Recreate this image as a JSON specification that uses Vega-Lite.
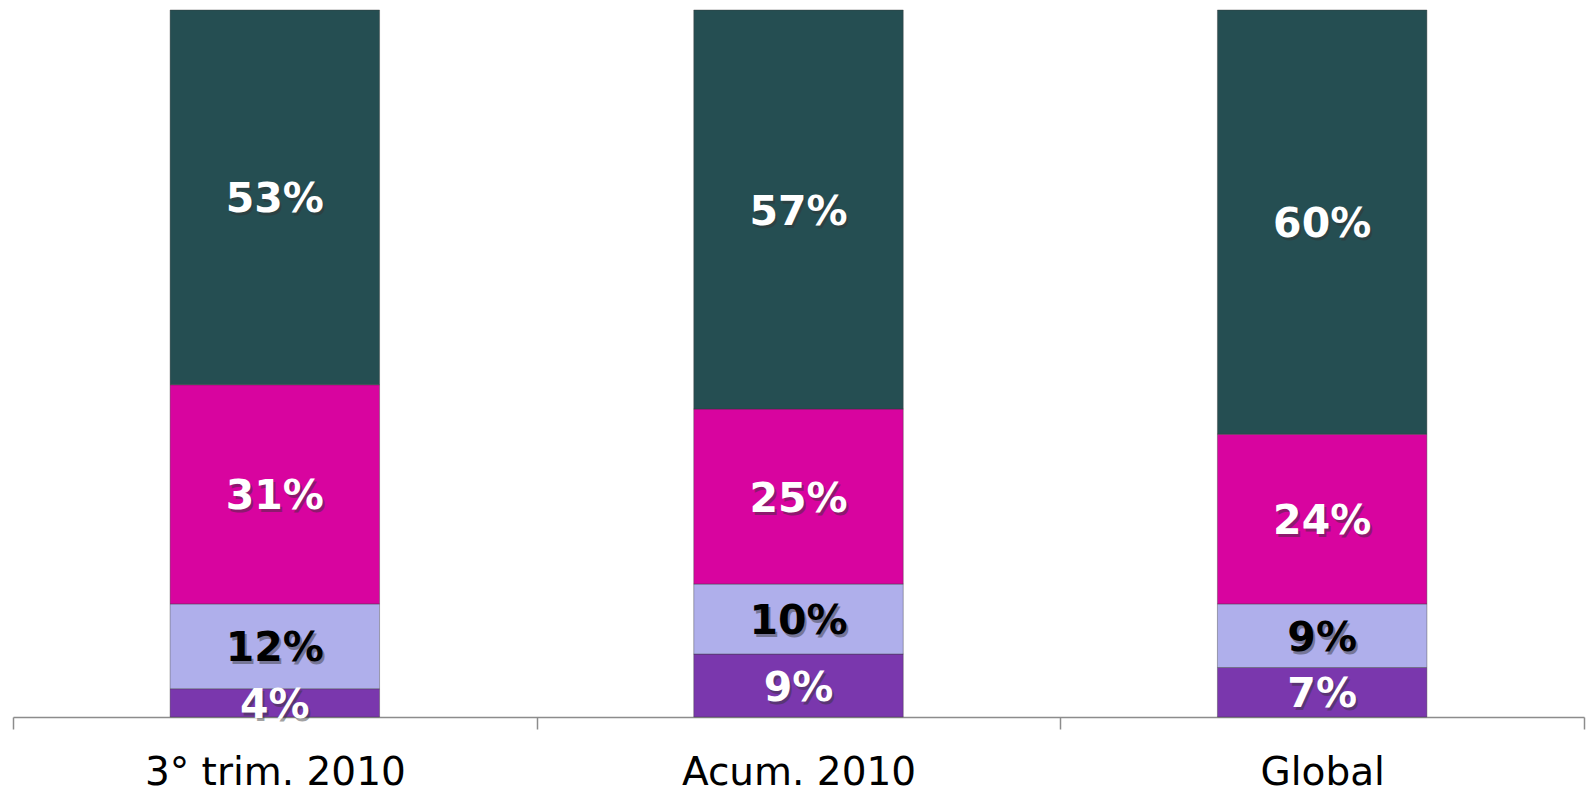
{
  "$schema": "https://vega.github.io/schema/vega-lite/v6.json",
  "width": 1571,
  "height": 707,
  "autosize": {"type": "none"},
  "padding": {"left": 13, "top": 10, "right": 5, "bottom": 78},
  "background": "#ffffff",
  "config": {"view": {"stroke": null}},
  "data": {
    "values": [
      {"cat": "3° trim. 2010", "seg": "A", "k": 1, "pct": 4, "label": "4%"},
      {"cat": "3° trim. 2010", "seg": "B", "k": 2, "pct": 12, "label": "12%"},
      {"cat": "3° trim. 2010", "seg": "C", "k": 3, "pct": 31, "label": "31%"},
      {"cat": "3° trim. 2010", "seg": "D", "k": 4, "pct": 53, "label": "53%"},
      {"cat": "Acum. 2010", "seg": "A", "k": 1, "pct": 9, "label": "9%"},
      {"cat": "Acum. 2010", "seg": "B", "k": 2, "pct": 10, "label": "10%"},
      {"cat": "Acum. 2010", "seg": "C", "k": 3, "pct": 25, "label": "25%"},
      {"cat": "Acum. 2010", "seg": "D", "k": 4, "pct": 57, "label": "57%"},
      {"cat": "Global", "seg": "A", "k": 1, "pct": 7, "label": "7%"},
      {"cat": "Global", "seg": "B", "k": 2, "pct": 9, "label": "9%"},
      {"cat": "Global", "seg": "C", "k": 3, "pct": 24, "label": "24%"},
      {"cat": "Global", "seg": "D", "k": 4, "pct": 60, "label": "60%"}
    ]
  },
  "transform": [
    {"stack": "pct", "groupby": ["cat"], "sort": [{"field": "k", "order": "ascending"}], "offset": "normalize", "as": ["y0", "y1"]},
    {"calculate": "(datum.y0 + datum.y1) / 2", "as": "ymid"}
  ],
  "encoding": {
    "x": {
      "field": "cat", "type": "nominal", "sort": null,
      "scale": {"paddingInner": 0, "paddingOuter": 0},
      "axis": {
        "title": null, "labelAngle": 0, "labelFont": "DejaVu Sans", "labelFontSize": 39, "labelLimit": 0,
        "labelColor": "#000000", "labelPadding": 24, "tickBand": "extent",
        "domainColor": "#8c8c8c", "domainWidth": 1.5, "tickColor": "#8c8c8c", "tickWidth": 1.5, "tickSize": 12
      }
    }
  },
  "layer": [
    {
      "mark": {"type": "bar", "width": {"band": 0.4}, "stroke": "#3a3a3a", "strokeWidth": 0.8, "strokeOpacity": 0.5},
      "encoding": {
        "y": {"field": "y0", "type": "quantitative", "scale": {"domain": [0, 1]}, "axis": null},
        "y2": {"field": "y1"},
        "color": {
          "field": "seg", "type": "nominal",
          "scale": {"domain": ["A", "B", "C", "D"], "range": ["#7a37ad", "#afafeb", "#d8049f", "#254e52"]},
          "legend": null
        }
      }
    },
    {
      "mark": {"type": "text", "font": "DejaVu Sans", "fontWeight": "bold", "fontSize": 41, "baseline": "middle", "align": "center", "dx": 2, "dy": 6, "color": "#333333", "opacity": 0.45},
      "encoding": {
        "y": {"field": "ymid", "type": "quantitative", "scale": {"domain": [0, 1]}},
        "text": {"field": "label"}
      }
    },
    {
      "mark": {"type": "text", "font": "DejaVu Sans", "fontWeight": "bold", "fontSize": 41, "baseline": "middle", "align": "center", "dy": 3},
      "encoding": {
        "y": {"field": "ymid", "type": "quantitative", "scale": {"domain": [0, 1]}},
        "text": {"field": "label"},
        "color": {
          "field": "seg", "type": "nominal",
          "scale": {"domain": ["A", "B", "C", "D"], "range": ["#ffffff", "#000000", "#ffffff", "#ffffff"]},
          "legend": null
        }
      }
    }
  ],
  "resolve": {"scale": {"color": "independent"}}
}
